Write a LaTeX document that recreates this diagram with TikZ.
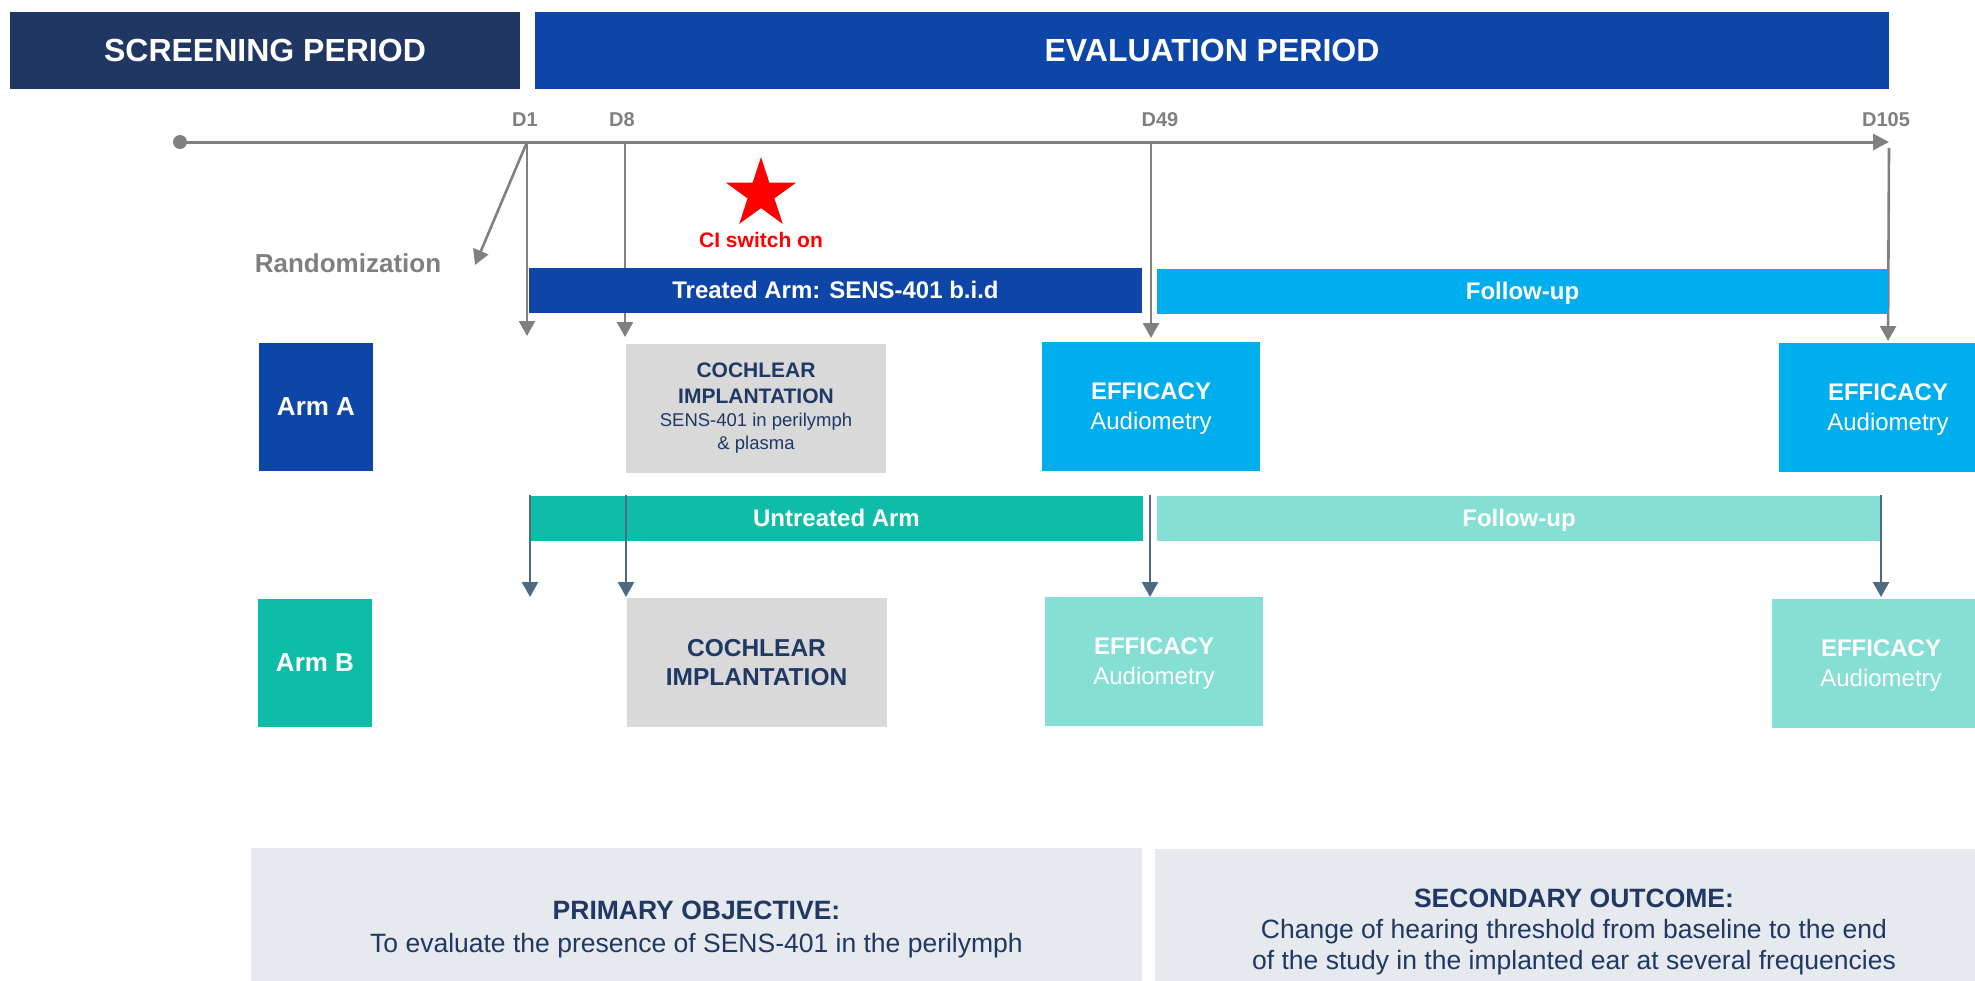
\documentclass[tikz,border=0pt]{standalone}
\usepackage{fontspec}
\setmainfont{Liberation Sans}
\usetikzlibrary{arrows.meta}
\usetikzlibrary{shapes.geometric}

\definecolor{navy}{HTML}{213763}
\definecolor{royal}{HTML}{0D46A8}
\definecolor{sky}{HTML}{00AEEE}
\definecolor{armteal}{HTML}{0EBDA8}
\definecolor{fupteal}{HTML}{85DFD4}
\definecolor{implgrey}{HTML}{D9D9D9}
\definecolor{objgrey}{HTML}{E6E9ED}
\definecolor{textnavy}{HTML}{1F3864}
\definecolor{linegrey}{HTML}{808080}
\definecolor{daygrey}{HTML}{7F7F7F}
\definecolor{slate}{HTML}{4F6A80}

\newcommand{\smalltext}[1]{\fontsize{18.5}{23}\selectfont #1}

\tikzset{
  period/.style={fill=navy, text=white, inner sep=0pt, minimum height=77pt, font=\bfseries\fontsize{32}{38}\selectfont},
  bar/.style={inner sep=0pt, minimum height=45pt, text depth=0pt, text=white, font=\bfseries\fontsize{24}{29}\selectfont},
  arm/.style={inner sep=0pt, minimum width=114pt, minimum height=128pt, text=white, font=\bfseries\fontsize{26}{31}\selectfont},
  implant/.style={fill=implgrey, text=textnavy, inner sep=0pt, minimum width=260pt, minimum height=129pt, align=center},
  efficacy/.style={inner sep=0pt, minimum width=218pt, minimum height=129pt, text depth=0pt, text=white, align=center, font=\fontsize{24}{30}\selectfont},
  objective/.style={fill=objgrey, text=textnavy, inner sep=0pt, align=center, font=\fontsize{26.5}{33}\selectfont},
  day/.style={text=daygrey, font=\bfseries\fontsize{20}{24}\selectfont},
  drop/.style={draw=linegrey, line width=2.6pt, -{Triangle[length=15pt,width=16pt]}},
  dropb/.style={drop, draw=slate},
}

\begin{document}
\begin{tikzpicture}[x=1pt,y=-1pt]
\useasboundingbox (0,0) rectangle (1975,980);
\clip (0,0) rectangle (1975,980);

\node[period, minimum width=510pt] (screen) at (265,50) {SCREENING PERIOD};
\node[period, fill=royal, minimum width=1354pt] (eval) at (1212,50) {EVALUATION PERIOD};

% time line
\node[circle, fill=linegrey, inner sep=0pt, minimum size=14pt] (t0) at (180,142) {};
\coordinate (d1) at (527,142);
\coordinate (d8) at (625,142);
\coordinate (d49) at (1151,142);
\coordinate (d105) at (1889,142);
\draw[line width=3pt, draw=linegrey, -{Triangle[length=16pt,width=16pt]}] (t0.center) -- (d105);
\node[day] (lab1) at (525,120) {D1};
\node[day] (lab8) at (622,120) {D8};
\node[day] (lab49) at (1160,120) {D49};
\node[day] (lab105) at (1886,120) {D105};

\coordinate (rnd) at (475,265);
\draw[drop] (d1) -- (rnd);
\node[text=daygrey, font=\bfseries\fontsize{26}{31}\selectfont] (randlab) at (348,263) {Randomization};

\node[star, star points=5, star point ratio=2.618, fill=red, inner sep=0pt, minimum size=74pt] (star) at (761,194) {};
\node[text=red, font=\bfseries\fontsize{21}{25}\selectfont] (cilab) at (761,240) {CI switch on};

% arm A
\coordinate (a1) at (527,336);
\coordinate (a8) at (625,337);
\coordinate (a49) at (1151,338);
\coordinate (a105) at (1888,341);
\draw[drop] (d1) -- (a1);
\draw[drop] (d8) -- (a8);
\draw[drop] (d49) -- (a49);
\draw[drop] ([yshift=-6pt]d105) -- (a105);

\node[bar, fill=royal, minimum width=613pt] (treated) at (835.5,290) {Treated Arm: SENS-401 b.i.d};
\node[bar, fill=sky, minimum width=731pt] (fupa) at (1522.5,291) {Follow-up};

\node[arm, fill=royal] (armA) at (316,407) {Arm A};
\node[implant, font=\fontsize{21}{23}\selectfont] (implA) at (756,408) {\textbf{COCHLEAR}\\[3.5pt]\textbf{IMPLANTATION}\\\smalltext{SENS-401 in perilymph}\\\smalltext{\& plasma}};
\node[efficacy, fill=sky] (effA1) at (1151,406) {\textbf{EFFICACY}\\Audiometry};
\node[efficacy, fill=sky] (effA2) at (1888,407) {\textbf{EFFICACY}\\Audiometry};

% arm B
\node[bar, fill=armteal, minimum width=613pt] (untreated) at (836.5,518) {Untreated Arm};
\node[bar, fill=fupteal, minimum width=724pt] (fupb) at (1519,518) {Follow-up};

\coordinate (b1) at (530,495);
\coordinate (b8) at (626,495);
\coordinate (b49) at (1150,495);
\coordinate (b105) at (1881,495);
\coordinate (e1) at (530,597);
\coordinate (e8) at (626,597);
\coordinate (e49) at (1150,597);
\coordinate (e105) at (1881,597);
\draw[dropb] (b1) -- (e1);
\draw[dropb] (b8) -- (e8);
\draw[dropb] (b49) -- (e49);
\draw[dropb] (b105) -- (e105);

\node[arm, fill=armteal] (armB) at (315,663) {Arm B};
\node[implant, font=\bfseries\fontsize{24.5}{29}\selectfont] (implB) at (756.5,662.5) {COCHLEAR\\IMPLANTATION};
\node[efficacy, fill=fupteal] (effB1) at (1154,661) {\textbf{EFFICACY}\\Audiometry};
\node[efficacy, fill=fupteal] (effB2) at (1881,663) {\textbf{EFFICACY}\\Audiometry};

% objectives
\node[objective, minimum width=891pt, minimum height=162pt] (prim) at (696.5,929) {\textbf{PRIMARY OBJECTIVE:}\\To evaluate the presence of SENS-401 in the perilymph};
\node[objective, minimum width=838pt, minimum height=166pt, font=\fontsize{26.5}{31}\selectfont] (sec) at (1574,932) {\textbf{SECONDARY OUTCOME:}\\Change of hearing threshold from baseline to the end\\of the study in the implanted ear at several frequencies};
\end{tikzpicture}
\end{document}
